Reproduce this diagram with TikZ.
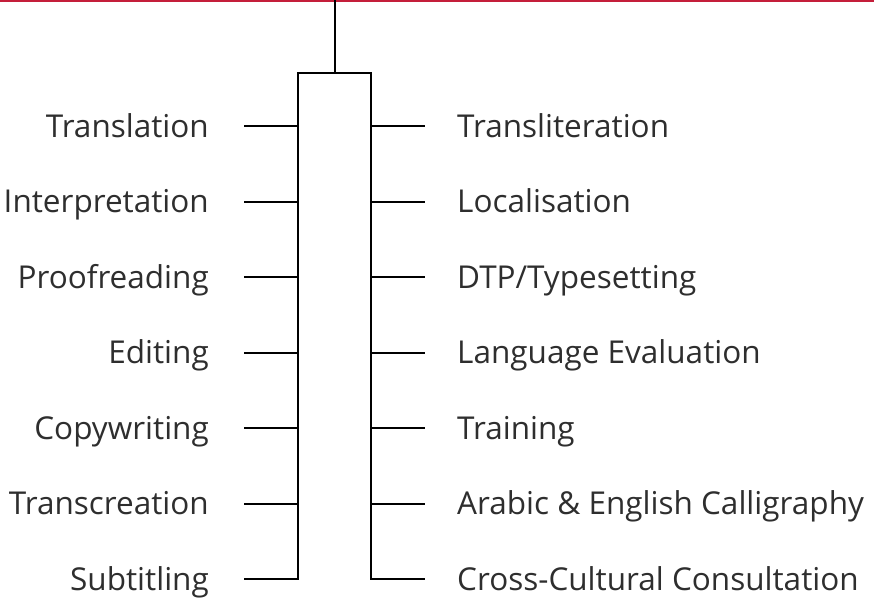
\documentclass[tikz,border=0pt]{standalone}
\usepackage{fontspec}
\setmainfont{Open Sans}[Ligatures={NoCommon}]
\definecolor{topred}{HTML}{C41E3A}
\begin{document}
\begin{tikzpicture}[x=1pt,y=-1pt,
  conn/.style={line width=2pt,line cap=rect},
  lbl/.style={font=\fontsize{31.5}{36}\selectfont,inner sep=0pt,text=black!82},
  lleft/.style={lbl,anchor=base east},
  lright/.style={lbl,anchor=base west}]
\useasboundingbox (0,0) rectangle (874,607);
\draw[topred,line width=3pt] (0,1) -- (874,1);
\coordinate (top) at (335,0);
\coordinate (hub) at (335,73);
\coordinate (L0) at (298,73);
\coordinate (R0) at (371,73);
\draw[conn] (top) -- (hub);
\draw[conn] (L0) -- (R0);
\foreach \i/\y in {1/126,2/201.5,3/277,4/352.5,5/428,6/503.5,7/579}{
  \coordinate (L\i) at (298,\y);
  \coordinate (LE\i) at (245,\y);
  \coordinate (R\i) at (371,\y);
  \coordinate (RE\i) at (424,\y);
}
\draw[conn] (L0) -- (L7);
\draw[conn] (R0) -- (R7);
\foreach \i in {1,...,7}{
  \draw[conn] (L\i) -- (LE\i);
  \draw[conn] (R\i) -- (RE\i);
}
\node[lleft] (t1) at (209,137) {Translation};
\node[lleft] (t2) at (209,212.5) {Interpretation};
\node[lleft] (t3) at (209,288) {Proofreading};
\node[lleft] (t4) at (209,363.5) {Editing};
\node[lleft] (t5) at (209,439) {Copywriting};
\node[lleft] (t6) at (209,514.5) {Transcreation};
\node[lleft] (t7) at (209,590) {Subtitling};
\node[lright] (u1) at (457,137) {Transliteration};
\node[lright] (u2) at (457,212.5) {Localisation};
\node[lright] (u3) at (457,288) {DTP/Typesetting};
\node[lright] (u4) at (457,363.5) {Language Evaluation};
\node[lright] (u5) at (457,439) {Training};
\node[lright] (u6) at (457,514.5) {Arabic \& English Calligraphy};
\node[lright] (u7) at (457,590) {Cross-Cultural Consultation};
\end{tikzpicture}
\end{document}
